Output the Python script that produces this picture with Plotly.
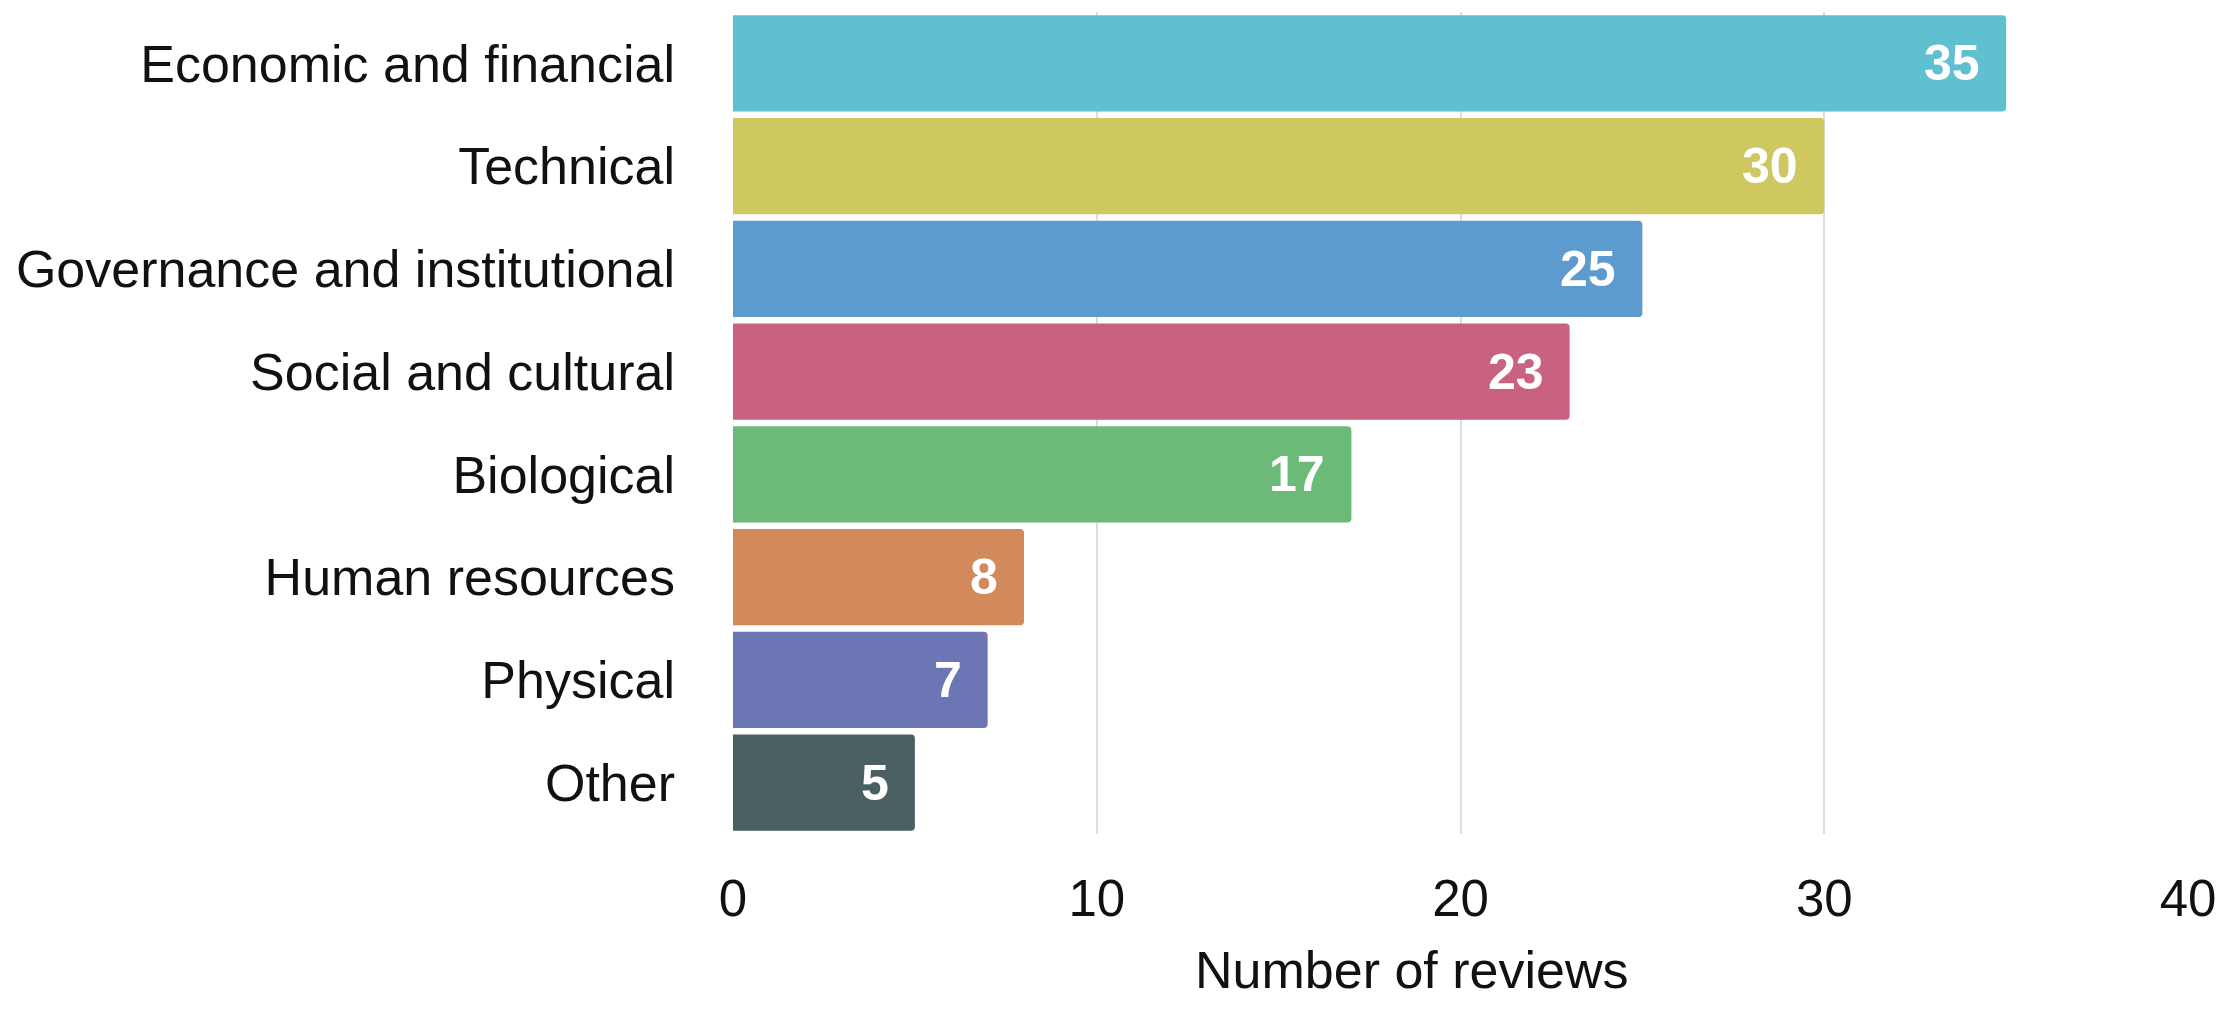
import plotly.graph_objects as go

# Review counts by category of barrier
categories = [
    "Economic and financial",
    "Technical",
    "Governance and institutional",
    "Social and cultural",
    "Biological",
    "Human resources",
    "Physical",
    "Other",
]
reviews = [35, 30, 25, 23, 17, 8, 7, 5]
bar_colors = [
    "#5FC0D0",
    "#CFC75F",
    "#5D9ACD",
    "#C96180",
    "#6BBA78",
    "#D2895B",
    "#6C76B4",
    "#4A5F61",
]
x_ticks = [0, 10, 20, 30, 40]

FONT = "Liberation Sans, Arial, sans-serif"

fig = go.Figure(
    go.Bar(
        x=reviews,
        y=categories,
        orientation="h",
        marker=dict(color=bar_colors, line=dict(width=0), cornerradius=4),
        hoverinfo="skip",
    )
)

# Value labels placed just inside the end of each bar
for cat, val in zip(categories, reviews):
    fig.add_annotation(
        x=val,
        y=cat,
        text=str(val),
        showarrow=False,
        xanchor="right",
        xshift=-24,
        font=dict(family=FONT, size=50, color="white", weight="bold"),
    )

# Horizontal axis title
fig.add_annotation(
    xref="paper",
    yref="paper",
    x=0.466,
    y=-0.165,
    xanchor="center",
    yanchor="middle",
    text="Number of reviews",
    showarrow=False,
    font=dict(family=FONT, size=52, color="#111111"),
)

fig.update_layout(
    width=2228,
    height=1034,
    margin=dict(l=733, r=31, t=12, b=200),
    paper_bgcolor="white",
    plot_bgcolor="white",
    bargap=0.065,
    showlegend=False,
    font=dict(family=FONT, color="#111111"),
)

fig.update_xaxes(
    range=[0, 40],
    tickvals=x_ticks,
    ticktext=[str(t) for t in x_ticks],
    showgrid=True,
    gridcolor="#DCDCDC",
    gridwidth=2,
    zeroline=False,
    showline=False,
    ticks="",
    ticklabelstandoff=30,
    tickfont=dict(family=FONT, size=51, color="#111111"),
)

fig.update_yaxes(
    categoryorder="array",
    categoryarray=categories,
    autorange="reversed",
    showgrid=False,
    zeroline=False,
    showline=False,
    ticks="",
    ticklabelstandoff=57,
    tickfont=dict(family=FONT, size=52, color="#111111"),
)

fig.write_html("out.html")
